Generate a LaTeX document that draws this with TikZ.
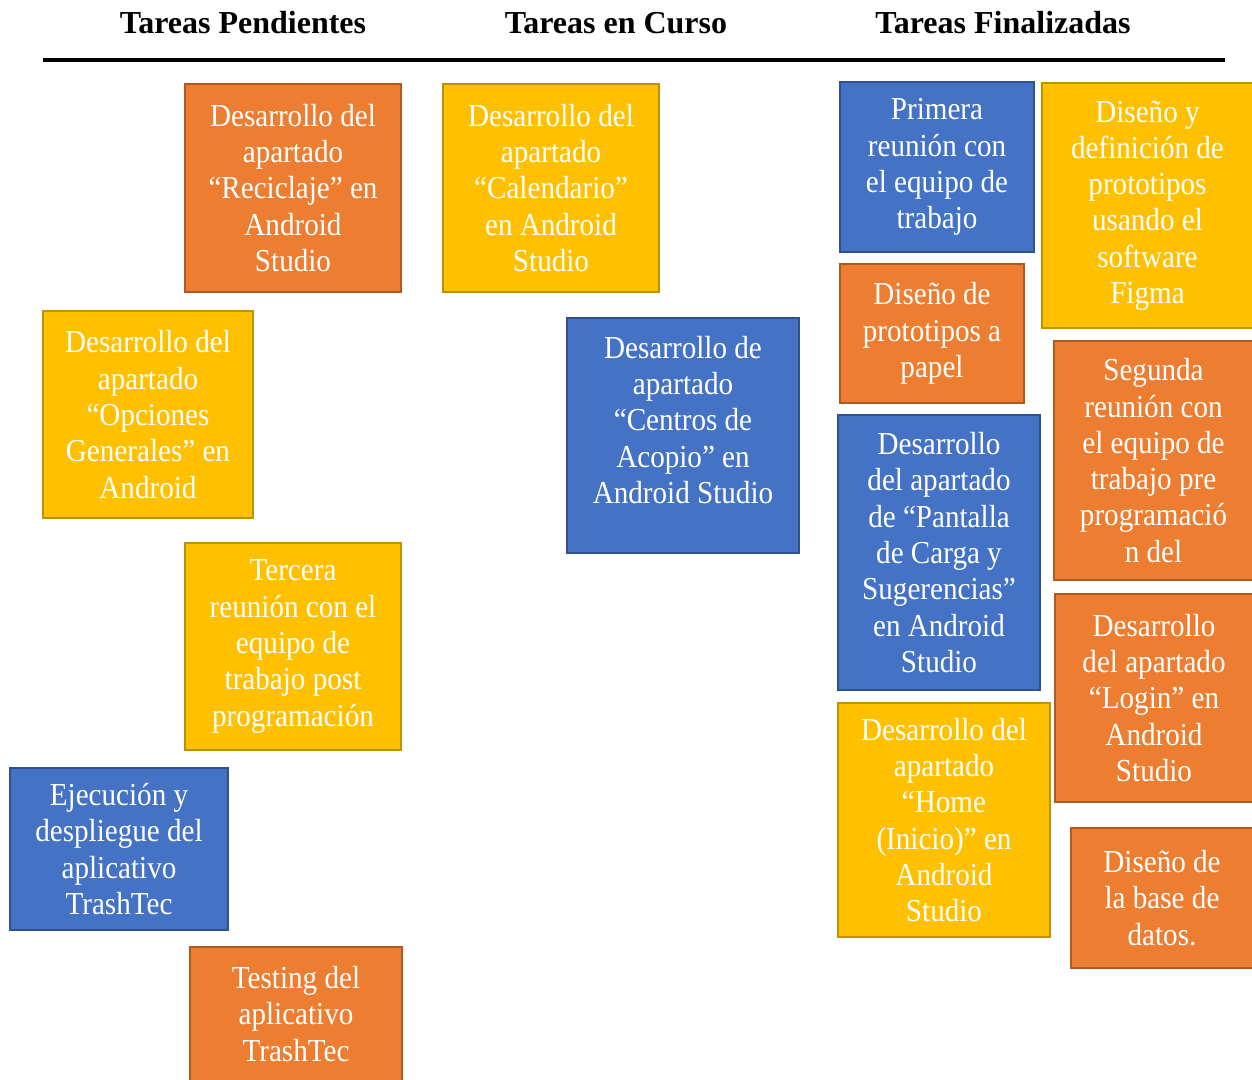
\documentclass[tikz,border=0pt]{standalone}
\usepackage{fontspec}
\setmainfont{LiberationSerif}[Extension=.ttf, UprightFont=*-Regular, BoldFont=*-Bold, ItalicFont=*-Italic, BoldItalicFont=*-BoldItalic]
\newfontfamily\cardfont{LiberationSerif}[Extension=.ttf, UprightFont=*-Regular, BoldFont=*-Bold, FakeStretch=0.91]
\definecolor{bfill}{HTML}{4472C4}
\definecolor{bline}{HTML}{2F528F}
\definecolor{ofill}{HTML}{ED7D31}
\definecolor{oline}{HTML}{AE5A21}
\definecolor{yfill}{HTML}{FFC000}
\definecolor{yline}{HTML}{BF9000}
\tikzset{
  card/.style={draw, line width=2pt, inner sep=0pt, align=center, text=white,
    font=\cardfont\fontsize{32}{36.3}\selectfont},
  cardtext/.style={inner sep=0pt, align=center, text=white,
    font=\cardfont\fontsize{32}{36.3}\selectfont},
  bluecard/.style={card, fill=bfill, draw=bline},
  orangecard/.style={card, fill=ofill, draw=oline},
  yellowcard/.style={card, fill=yfill, draw=yline},
  header/.style={anchor=base, inner sep=0pt, font=\fontsize{32}{36.8}\selectfont\bfseries},
  rule/.style={line width=4pt, black}
}
\begin{document}
\begin{tikzpicture}[x=1pt,y=-1pt]
\useasboundingbox (0,0) rectangle (1252,1079);
\clip (0,0) rectangle (1252,1079);
\fill[white] (0,0) rectangle (1252,1079);

\node[header] (h1) at (243,33) {Tareas Pendientes};
\node[header] (h2) at (616,33) {Tareas en Curso};
\node[header] (h3) at (1003,33) {Tareas Finalizadas};
\coordinate (rl) at (43,60);
\coordinate (rr) at (1225,60);
\draw[rule] (rl) -- (rr);

% Pendientes
\node[orangecard, minimum width=216pt, minimum height=208pt] (a) at (293,188)
  {Desarrollo del\\apartado\\“Reciclaje” en\\Android\\Studio};
\node[yellowcard, minimum width=210pt, minimum height=207pt] (b) at (148,414.5)
  {Desarrollo del\\apartado\\“Opciones\\Generales” en\\Android};
\node[yellowcard, minimum width=216pt, minimum height=207pt] (c) at (293,646.5)
  {Tercera\\reunión con el\\equipo de\\trabajo post\\programación};
\node[bluecard, minimum width=218pt, minimum height=162pt] (d) at (119,849)
  {Ejecución y\\despliegue del\\aplicativo\\TrashTec};
\node[orangecard, minimum width=212pt, minimum height=134pt] (e) at (296,1014)
  {Testing del\\aplicativo\\TrashTec};

% En curso
\node[yellowcard, minimum width=216pt, minimum height=208pt] (f) at (551,188)
  {Desarrollo del\\apartado\\“Calendario”\\en Android\\Studio};
\node[bluecard, minimum width=232pt, minimum height=235pt] (g) at (683,435.5) {};
\node[cardtext] (gt) at (683,420) 
  {Desarrollo de\\apartado\\“Centros de\\Acopio” en\\Android Studio};

% Finalizadas
\node[bluecard, minimum width=194pt, minimum height=170pt] (h) at (937,167)
  {Primera\\reunión con\\el equipo de\\trabajo};
\node[yellowcard, minimum width=211pt, minimum height=245pt] (i) at (1147.5,205.5)
  {Diseño y\\definición de\\prototipos\\usando el\\software\\Figma};
\node[orangecard, minimum width=184pt, minimum height=139pt] (j) at (932,333.5)
  {Diseño de\\prototipos a\\papel};
\node[orangecard, minimum width=199pt, minimum height=239pt] (k) at (1153.5,460.5)
  {Segunda\\reunión con\\el equipo de\\trabajo pre\\programació\\n del};
\node[bluecard, minimum width=202pt, minimum height=275pt] (l) at (939,552.5)
  {Desarrollo\\del apartado\\de “Pantalla\\de Carga y\\Sugerencias”\\en Android\\Studio};
\node[orangecard, minimum width=198pt, minimum height=208pt] (m) at (1154,698)
  {Desarrollo\\del apartado\\“Login” en\\Android\\Studio};
\node[yellowcard, minimum width=212pt, minimum height=234pt] (n) at (944,820)
  {Desarrollo del\\apartado\\“Home\\(Inicio)” en\\Android\\Studio};
\node[orangecard, minimum width=182pt, minimum height=140pt] (o) at (1162,898)
  {Diseño de\\la base de\\datos.};
\end{tikzpicture}
\end{document}
